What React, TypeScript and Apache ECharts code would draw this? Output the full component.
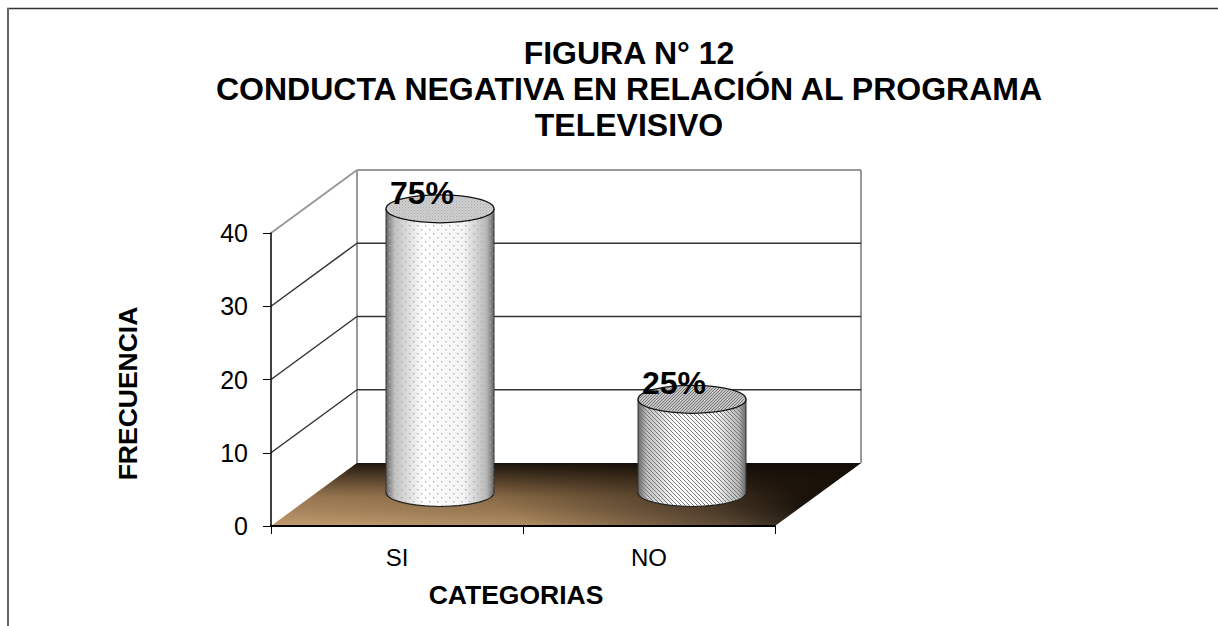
import React, { useEffect, useRef } from "react";
import * as echarts from "echarts";

const categories = ["SI", "NO"];
const frequencies = [39, 13];
const percentLabels = ["75%", "25%"];
const gridValues = [0, 10, 20, 30, 40];
const titleLines = ["FIGURA N° 12", "CONDUCTA NEGATIVA EN RELACIÓN AL PROGRAMA", "TELEVISIVO"];

const FONT = '"Liberation Sans", Arial, sans-serif';
const DX = 86;
const DY = -63;

function svgUrl(w: number, h: number, body: string) {
  const s = `<svg xmlns="http://www.w3.org/2000/svg" width="${w}" height="${h}">${body}</svg>`;
  return "data:image/svg+xml;base64," + btoa(s);
}
const dotsPattern = {
  image: svgUrl(8, 8, '<rect x="1" y="1" width="1.4" height="1.4" fill="#a8a8a8"/><rect x="5" y="5" width="1.4" height="1.4" fill="#b4b4b4"/>'),
  imageWidth: 8, imageHeight: 8, repeat: "repeat",
};
const hatchPattern = {
  image: svgUrl(4, 4, '<path d="M-1,-1 L5,5 M-1,3 L1,5 M3,-1 L5,1" stroke="#777" stroke-width="1"/>'),
  imageWidth: 4, imageHeight: 4, repeat: "repeat",
};
const hatchTop = {
  image: svgUrl(3, 3, '<path d="M-1,4 L4,-1 M-1,1 L1,-1 M2,4 L4,2" stroke="#666" stroke-width="0.8"/>'),
  imageWidth: 3, imageHeight: 3, repeat: "repeat",
};
const dotsTop = {
  image: svgUrl(3, 3, '<rect x="0" y="0" width="1" height="1" fill="#aaa"/><rect x="1.5" y="1.5" width="1" height="1" fill="#b4b4b4"/>'),
  imageWidth: 3, imageHeight: 3, repeat: "repeat",
};

const bodyGradient = {
  type: "linear", x: 0, y: 0, x2: 1, y2: 0,
  colorStops: [
    { offset: 0, color: "#666" },
    { offset: 0.08, color: "#c0c0c0" },
    { offset: 0.35, color: "#ffffff" },
    { offset: 0.72, color: "#f4f4f4" },
    { offset: 0.93, color: "#b8b8b8" },
    { offset: 1, color: "#666" },
  ],
};
const floorGradient = {
  type: "linear", x: 0, y: 0.6, x2: 1, y2: 0.4,
  colorStops: [
    { offset: 0, color: "#c29b6e" },
    { offset: 0.35, color: "#b08c60" },
    { offset: 0.68, color: "#5a4732" },
    { offset: 0.88, color: "#0c0906" },
    { offset: 1, color: "#000000" },
  ],
};
const floorShade = {
  type: "linear", x: 0, y: 0, x2: 0, y2: 1,
  colorStops: [
    { offset: 0, color: "rgba(20,14,8,0.95)" },
    { offset: 0.55, color: "rgba(60,40,20,0.3)" },
    { offset: 1, color: "rgba(0,0,0,0)" },
  ],
};

function renderWalls(params: any, api: any) {
  const v = api.value(0);
  const [x0, y] = api.coord([categories[0], v]);
  const band = api.size([1, 0])[0];
  const left = x0 - band / 2;
  const right = left + band * categories.length;
  const isTop = v === gridValues[gridValues.length - 1];
  const isBase = v === gridValues[0];
  const children: any[] = [];
  const wallColor = "#999";
  if (isBase) {
    const top = api.coord([categories[0], gridValues[gridValues.length - 1]])[1];
    const floor = [[left, y], [right, y], [right + DX, y + DY], [left + DX, y + DY]];
    children.push({ type: "polygon", shape: { points: floor }, style: { fill: floorGradient } });
    children.push({ type: "polygon", shape: { points: floor }, style: { fill: floorShade } });
    children.push({ type: "line", shape: { x1: left + DX, y1: y + DY, x2: left + DX, y2: top + DY }, style: { stroke: wallColor, lineWidth: 2 } });
    children.push({ type: "line", shape: { x1: right + DX, y1: y + DY, x2: right + DX, y2: top + DY }, style: { stroke: wallColor, lineWidth: 2 } });
  } else {
    const stroke = isTop ? wallColor : "#333";
    const lineWidth = isTop ? 2 : 1.5;
    children.push({ type: "line", shape: { x1: left, y1: y, x2: left + DX, y2: y + DY }, style: { stroke, lineWidth } });
    children.push({ type: "line", shape: { x1: left + DX, y1: y + DY, x2: right + DX, y2: y + DY }, style: { stroke, lineWidth } });
  }
  return { type: "group", children };
}

function renderCylinder(params: any, api: any) {
  const i = params.dataIndex;
  const [fx, fy] = api.coord([api.value(0), api.value(1)]);
  const [, fy0] = api.coord([api.value(0), 0]);
  const cx = fx + DX / 2;
  const top = fy + DY / 2;
  const bottom = fy0 + DY / 2 - 2;
  const rx = 54;
  const ry = 14;
  const isDots = i === 0;
  const pat = isDots ? dotsPattern : hatchPattern;
  const bodyRect = { x: cx - rx, y: top, width: rx * 2, height: bottom - top };
  return {
    type: "group",
    children: [
      { type: "ellipse", shape: { cx, cy: bottom, rx, ry }, style: { fill: bodyGradient, stroke: "#222", lineWidth: 1.2 } },
      { type: "ellipse", shape: { cx, cy: bottom, rx: rx - 0.5, ry: ry - 0.5 }, style: { fill: pat } },
      { type: "rect", shape: bodyRect, style: { fill: bodyGradient } },
      { type: "rect", shape: bodyRect, style: { fill: pat } },
      { type: "line", shape: { x1: cx - rx, y1: top, x2: cx - rx, y2: bottom }, style: { stroke: "#333", lineWidth: 1 } },
      { type: "line", shape: { x1: cx + rx, y1: top, x2: cx + rx, y2: bottom }, style: { stroke: "#333", lineWidth: 1 } },
      { type: "ellipse", shape: { cx, cy: top, rx, ry }, style: { fill: isDots ? "#cfcfcf" : "#c4c4c4", stroke: "#111", lineWidth: 1.3 } },
      { type: "ellipse", shape: { cx, cy: top, rx: rx - 1, ry: ry - 1 }, style: { fill: isDots ? dotsTop : hatchTop } },
      {
        type: "text", x: cx - 18, y: top - 16,
        style: { text: percentLabels[i], font: `bold 32px ${FONT}`, fill: "#000", align: "center", verticalAlign: "middle" },
      },
    ],
  };
}

export default function App() {
  const ref = useRef<HTMLDivElement>(null);
  useEffect(() => {
    document.body.style.margin = "0";
    const chart = echarts.init(ref.current!, undefined, { renderer: "svg" });
    chart.setOption({
      animation: false,
      backgroundColor: "#ffffff",
      textStyle: { fontFamily: FONT },
      title: {
        text: titleLines.join("\n"),
        left: 624, top: 30, textAlign: "center",
        textStyle: { fontFamily: FONT, fontSize: 32, fontWeight: "bold", color: "#000", lineHeight: 36 },
      },
      grid: { left: 271, right: 443, top: 233, bottom: 100 },
      xAxis: {
        type: "category", data: categories, z: 5,
        axisLine: { lineStyle: { color: "#000", width: 2 } },
        axisTick: { show: true, length: 8, lineStyle: { color: "#000" } },
        axisLabel: { color: "#000", fontSize: 24, fontFamily: FONT, margin: 19 },
        name: "CATEGORIAS", nameLocation: "middle", nameGap: 55,
        nameTextStyle: { color: "#000", fontSize: 26.5, fontWeight: "bold", fontFamily: FONT, padding: [0, 14, 0, 0] },
      },
      yAxis: {
        type: "value", min: 0, max: 40, interval: 10, z: 5,
        axisLine: { show: true, lineStyle: { color: "#000", width: 1.5 } },
        axisTick: { show: true, length: 8, lineStyle: { color: "#000" } },
        axisLabel: { color: "#000", fontSize: 25, fontFamily: FONT, margin: 23 },
        splitLine: { show: false },
        name: "FRECUENCIA", nameLocation: "middle", nameGap: 130, nameRotate: 90,
        nameTextStyle: { color: "#000", fontSize: 26.5, fontWeight: "bold", fontFamily: FONT, padding: [0, 28, 0, 0] },
      },
      series: [
        {
          type: "custom", coordinateSystem: "cartesian2d", clip: false, z: 1, silent: true,
          data: gridValues.map((v) => [v]), encode: { y: 0 }, renderItem: renderWalls,
        },
        {
          type: "custom", coordinateSystem: "cartesian2d", clip: false, z: 3, silent: true,
          data: categories.map((c, i) => [c, frequencies[i]]), encode: { x: 0, y: 1 }, renderItem: renderCylinder,
        },
      ],
      graphic: [
        { type: "line", shape: { x1: 7, y1: 8.5, x2: 1218, y2: 8.5 }, style: { stroke: "#333", lineWidth: 1.5 } },
        { type: "line", shape: { x1: 8, y1: 8, x2: 8, y2: 626 }, style: { stroke: "#666", lineWidth: 2 } },
      ],
    });
    return () => chart.dispose();
  }, []);
  return <div ref={ref} style={{ width: 1218, height: 626 }} />;
}
